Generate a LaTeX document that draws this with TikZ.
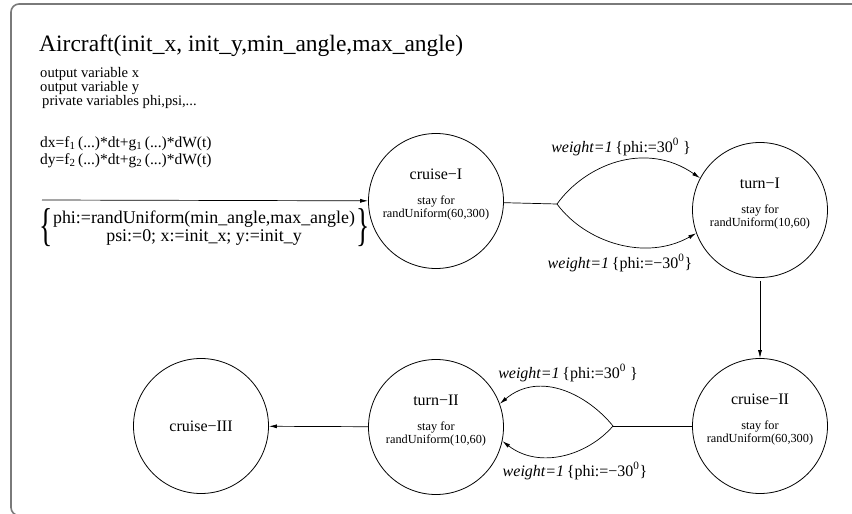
\documentclass[tikz,border=0pt]{standalone}
\usepackage{fontspec}
\setmainfont{Liberation Serif}
\usepackage{graphicx}
\usepackage{xcolor}
\usepackage{tikz}
\usetikzlibrary{arrows.meta,positioning}
\definecolor{framegray}{HTML}{7A7A7A}
\definecolor{ink}{HTML}{000000}

\begin{document}
\begin{tikzpicture}[
  x=1pt, y=-1pt,
  mode/.style={draw=ink, circle, minimum size=135pt, inner sep=0pt, line width=0.8pt},
  modename/.style={font=\fontsize{16}{18}\selectfont},
  staytext/.style={align=center, font=\fontsize{12.3}{12.5}\selectfont},
  weight/.style={font=\fontsize{16}{18}\selectfont},
  info/.style={anchor=west, align=left, inner sep=0pt},
  inittext/.style={align=center, inner sep=0pt, font=\fontsize{17.9}{18.5}\selectfont},
  initbrace/.style={inner sep=0pt, font=\fontsize{46}{46}\selectfont},
  arrow/.style={-{Latex[length=8pt,width=4pt]}, line width=0.7pt, draw=ink},
  plain/.style={line width=0.7pt, draw=ink},
  frame/.style={draw=framegray, line width=1.6pt, rounded corners=8pt}
]
  \useasboundingbox (0,0) rectangle (852,514);
  \begin{scope}
    \clip (0,0) rectangle (852,514);
    \draw[frame] (11,4) rectangle (900,515.5);
  \end{scope}

  % header and declarations
  \node[info, font=\fontsize{23.5}{26}\selectfont] (title) at (39,46)
    {Aircraft(init\_x, init\_y,min\_angle,max\_angle)};
  \node[info, font=\fontsize{14.6}{12.6}\selectfont] (vars) at (40,88)
    {output variable x\\output variable y\\\hspace{2pt}private variables phi,psi,...};
  \node[info, font=\fontsize{15.5}{17}\selectfont] (sde) at (40,152)
    {dx=f\textsubscript{1}\,(...)*dt+g\textsubscript{1}\,(...)*dW(t)\\
     dy=f\textsubscript{2}\,(...)*dt+g\textsubscript{2}\,(...)*dW(t)};
  \node[inittext] (init) at (204,228)
    {phi:=randUniform(min\_angle,max\_angle)\\psi:=0; x:=init\_x; y:=init\_y};
  \node[initbrace, left=0pt of init] (lbrace) {\scalebox{0.6}[1]{\{}};
  \node[initbrace, right=1pt of init] (rbrace) {\scalebox{0.6}[1]{\}}};

  % modes
  \node[mode] (cruiseI) at (436,201) {};
  \node[mode] (turnI) at (760,210) {};
  \node[mode] (cruiseII) at (760,426) {};
  \node[mode] (turnII) at (436,427) {};
  \node[mode] (cruiseIII) at (201,426) {};

  \foreach \n/\t/\a/\b in {cruiseI/cruise−I/60/300, turnI/turn−I/10/60,
                           cruiseII/cruise−II/60/300, turnII/turn−II/10/60} {
    \node[modename] (\n-name) at ([yshift=27pt]\n.center) {\t};
    \node[staytext] (\n-stay) at ([yshift=-7pt]\n.center) {stay for\\randUniform(\a,\b)};
  }
  \node[modename] (cruiseIII-name) at (cruiseIII) {cruise−III};

  % transitions
  \coordinate (entry) at (42,200);
  \draw[arrow] (entry) -- (cruiseI);

  \coordinate (fork1) at (557,204);
  \draw[plain] (cruiseI) -- (fork1);
  \draw[arrow] (fork1) .. controls (585,165) and (645,140) .. (turnI.152);
  \draw[arrow] (fork1) .. controls (585,242) and (645,262) .. (turnI.200);
  \node[weight] (w1) at (621,147) {\textit{weight=1}\,\{phi:=30\textsuperscript{0}\ \}};
  \node[weight] (w2) at (620,263) {\textit{weight=1}\,\{phi:=−30\textsuperscript{0}\}};

  \draw[arrow, shorten <=3pt] (turnI) -- (cruiseII);

  \coordinate (fork2) at (613,426);
  \draw[plain] (cruiseII) -- (fork2);
  \draw[arrow] (fork2) .. controls (588,395) and (540,370) .. (turnII.20);
  \draw[arrow] (fork2) .. controls (588,455) and (540,470) .. (turnII.-12);
  \node[weight] (w3) at (568,373) {\textit{weight=1}\,\{phi:=30\textsuperscript{0}\ \}};
  \node[weight] (w4) at (575,471) {\textit{weight=1}\,\{phi:=−30\textsuperscript{0}\}};

  \draw[arrow] (turnII) -- (cruiseIII);
\end{tikzpicture}
\end{document}
